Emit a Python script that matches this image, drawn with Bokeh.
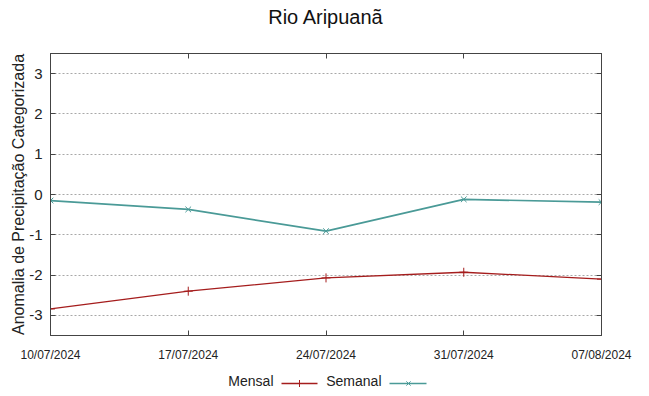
import pandas as pd
from bokeh.plotting import figure
from bokeh.layouts import column
from bokeh.models import (FixedTicker, DatetimeTickFormatter, LinearAxis, DatetimeAxis,
                          Range1d)
from bokeh.core.properties import value
from bokeh.embed import file_html
from bokeh.resources import INLINE

# ---- data ----
dates = ["2024-07-10", "2024-07-17", "2024-07-24", "2024-07-31", "2024-08-07"]
mensal = [-2.84, -2.40, -2.07, -1.93, -2.10]
semanal = [-0.15, -0.37, -0.91, -0.12, -0.19]
y_ticks = [-3, -2, -1, 0, 1, 2, 3]
series_names = ["Mensal", "Semanal"]
title_text = "Rio Aripuanã"
y_label = "Anomalia de Precipitação Categorizada"

RED = "#a51d1d"
TEAL = "#4a9a97"
FRAME = "#444444"
FONT = "Liberation Sans"

x = pd.to_datetime(dates)
tick_ms = [int(t.value // 10**6) for t in x]

p = figure(width=649, height=368, x_axis_type="datetime",
           output_backend="svg", toolbar_location=None,
           x_range=Range1d(x[0], x[-1]), y_range=Range1d(-3.5, 3.5),
           min_border_left=50, min_border_right=48,
           min_border_top=53, min_border_bottom=33)
p.background_fill_color = "white"
p.border_fill_color = "white"
p.outline_line_color = FRAME
p.outline_line_width = 1
p.title.visible = False

# axes
p.xaxis.ticker = FixedTicker(ticks=tick_ms)
fmt = "%d/%m/%Y"
p.xaxis.formatter = DatetimeTickFormatter(days=fmt, months=fmt, years=fmt, hours=fmt,
                                          hourmin=fmt, minutes=fmt, minsec=fmt,
                                          seconds=fmt, milliseconds=fmt,
                                          microseconds=fmt)
p.yaxis.ticker = FixedTicker(ticks=y_ticks)
p.yaxis.major_label_overrides = {t: str(t) for t in y_ticks}
for ax in (p.xaxis[0], p.yaxis[0]):
    ax.axis_line_color = FRAME
    ax.major_tick_line_color = FRAME
    ax.major_tick_in = 5
    ax.major_tick_out = 0
    ax.minor_tick_line_color = None
    ax.major_label_text_font = FONT
    ax.major_label_text_color = "#222222"
p.xaxis.major_label_text_font_size = "12px"
p.xaxis.major_label_standoff = 12
p.yaxis.major_label_text_font_size = "15px"
p.yaxis.major_label_standoff = 8
p.yaxis.axis_label = y_label
p.yaxis.axis_label_text_font = FONT
p.yaxis.axis_label_text_font_size = "16px"
p.yaxis.axis_label_text_font_style = "normal"
p.yaxis.axis_label_text_color = "#222222"
p.yaxis.axis_label_standoff = -1

# mirrored ticks (no labels); the top one carries the chart title
right = LinearAxis(ticker=FixedTicker(ticks=y_ticks), axis_line_color=FRAME,
                   major_tick_line_color=FRAME, major_tick_in=5, major_tick_out=0,
                   minor_tick_line_color=None, major_label_text_color=None,
                   major_label_text_font_size="1px", major_label_standoff=0)
top = DatetimeAxis(ticker=FixedTicker(ticks=tick_ms), axis_line_color=FRAME,
                   major_tick_line_color=FRAME, major_tick_in=5, major_tick_out=0,
                   minor_tick_line_color=None, major_label_text_color=None,
                   major_label_text_font_size="1px", major_label_standoff=0,
                   axis_label=title_text, axis_label_text_font=FONT,
                   axis_label_text_font_size="20px", axis_label_text_font_style="normal",
                   axis_label_text_color="#111111", axis_label_standoff=26)
p.add_layout(right, "right")
p.add_layout(top, "above")

# grid
p.xgrid.visible = False
p.ygrid.grid_line_color = "#a8a8a8"
p.ygrid.grid_line_dash = "2 2"
p.ygrid.grid_line_width = 1

# series
p.line(x, mensal, line_color=RED, line_width=1.3)
p.scatter(x, mensal, marker="cross", size=9, line_color=RED, line_width=1)
p.line(x, semanal, line_color=TEAL, line_width=1.7)
p.scatter(x, semanal, marker="x", size=8, line_color=TEAL, line_width=1)

# ---- legend strip (gnuplot style: label, then line sample) ----
# its frame is aligned with the main frame (page x 50..601), so use pixel-like range
lg = figure(width=649, height=28, output_backend="svg", toolbar_location=None,
            x_range=Range1d(50, 601), y_range=Range1d(0, 28),
            x_axis_type=None, y_axis_type=None,
            min_border=0, min_border_left=0, min_border_right=0,
            min_border_top=0, min_border_bottom=0)
lg.outline_line_color = None
lg.background_fill_color = "white"
lg.border_fill_color = "white"
lg.grid.visible = False
lg.title.visible = False

lg.text(x=[273, 381], y=[16, 16], text=series_names, text_align="right",
        text_baseline="middle", text_font=value(FONT), text_font_size="14px",
        text_color="#222222")
lg.segment(x0=[281], y0=[13], x1=[317], y1=[13], line_color=RED, line_width=1.3)
lg.scatter(x=[299], y=[13], marker="cross", size=7, line_color=RED, line_width=1)
lg.segment(x0=[389], y0=[13], x1=[426], y1=[13], line_color=TEAL, line_width=1.3)
lg.scatter(x=[408], y=[13], marker="x", size=6, line_color=TEAL, line_width=1)

open("out.html", "w").write(file_html(column(p, lg), INLINE))
